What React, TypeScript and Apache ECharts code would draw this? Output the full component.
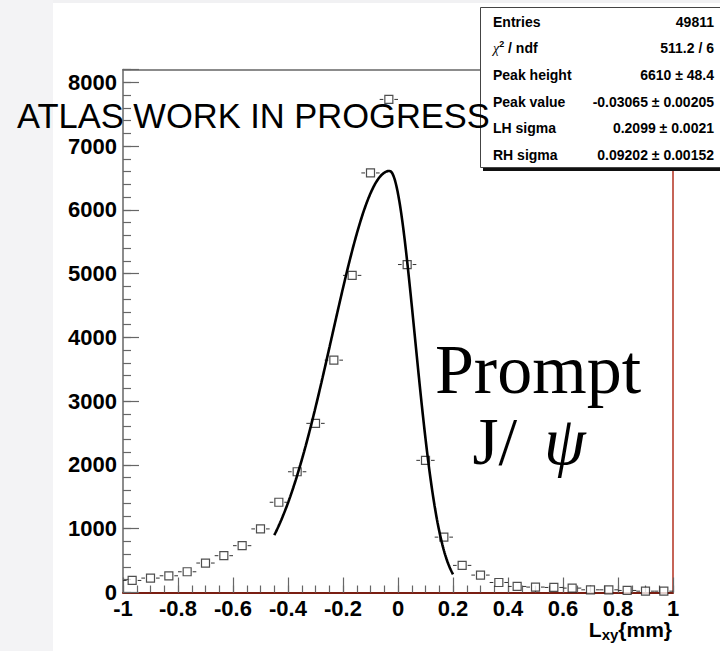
import React, { useEffect, useRef } from "react";
import * as echarts from "echarts";

// Histogram of L_xy (30 bins over [-1, 1] mm)
const binCenters = [
  -0.9667, -0.9, -0.8333, -0.7667, -0.7, -0.6333, -0.5667, -0.5, -0.4333, -0.3667,
  -0.3, -0.2333, -0.1667, -0.1, -0.0333, 0.0333, 0.1, 0.1667, 0.2333, 0.3,
  0.3667, 0.4333, 0.5, 0.5667, 0.6333, 0.7, 0.7667, 0.8333, 0.9, 0.9667,
];
const binHalfWidth = 1 / 30;
const counts = [
  189, 226, 262, 325, 462, 577, 734, 997, 1415, 1893,
  2652, 3643, 4972, 6578, 7731, 5142, 2072, 868, 425, 273,
  157, 95, 85, 79, 69, 42, 42, 32, 21, 21,
];

// Bifurcated Gaussian fit result
const fitHeight = 6610;
const fitPeak = -0.03065;
const fitSigmaL = 0.2099;
const fitSigmaR = 0.09202;
const fitRange = [-0.45, 0.2];

// Statistics box rows
const statLabels = ["Entries", "{chi|χ}{sup|2}{b| / ndf}", "Peak height", "Peak value", "LH sigma", "RH sigma"];
const statValues = ["49811", "511.2 / 6", "6610 ± 48.4", "-0.03065 ± 0.00205", "0.2099 ± 0.0021", "0.09202 ± 0.00152"];

// Axis tick settings
const xMin = -1;
const xMax = 1;
const xMajor = 0.2;
const xMinor = 0.05;
const yMin = 0;
const yMax = 8200;
const yMajor = 1000;
const yMinor = 200;

const SANS = "'Liberation Sans', Arial, Helvetica, sans-serif";
const SERIF = "'Liberation Serif', 'Times New Roman', serif";

function bifurGauss(x: number): number {
  const s = x < fitPeak ? fitSigmaL : fitSigmaR;
  const d = (x - fitPeak) / s;
  return fitHeight * Math.exp(-0.5 * d * d);
}

export default function App() {
  const ref = useRef<HTMLDivElement>(null);

  useEffect(() => {
    if (!ref.current) return;
    const chart = echarts.init(ref.current, undefined, { renderer: "svg" });

    const points = binCenters.map((c, i) => [c, counts[i]]);
    const curve: number[][] = [];
    const nSamp = 300;
    for (let i = 0; i <= nSamp; i++) {
      const x = fitRange[0] + ((fitRange[1] - fitRange[0]) * i) / nSamp;
      curve.push([x, bifurGauss(x)]);
    }

    const tickColor = "#666666";
    const labelStyle = {
      color: "#000",
      fontSize: 22,
      fontWeight: "bold" as const,
      fontFamily: SANS,
    };

    const statsTop = 7;
    const rowH = 26.7;
    const boxZ = 30;
    const statsChildren: any[] = [
      { type: "rect", z: boxZ, shape: { x: 483, y: 10, width: 245, height: 161 }, style: { fill: "#111111" } },
      {
        type: "rect",
        z: boxZ + 1,
        shape: { x: 480.5, y: 7.5, width: 245, height: 160 },
        style: { fill: "#ffffff", stroke: "#444444", lineWidth: 1 },
      },
    ];
    statLabels.forEach((lab, i) => {
      statsChildren.push({
        type: "text",
        z: boxZ + 2,
        x: 493,
        y: statsTop + 14.5 + rowH * i,
        style: {
          text: lab,
          font: `bold 14px ${SANS}`,
          fill: "#000",
          align: "left",
          verticalAlign: "middle",
          rich: {
            chi: { fontSize: 14, fontFamily: SERIF, fontStyle: "italic", lineHeight: 18 },
            sup: { fontSize: 9, fontWeight: "bold", fontFamily: SANS, verticalAlign: "top", lineHeight: 18 },
            b: { fontSize: 14, fontWeight: "bold", fontFamily: SANS, lineHeight: 18 },
          },
        },
      });
      statsChildren.push({
        type: "text",
        z: boxZ + 2,
        x: 714,
        y: statsTop + 14.5 + rowH * i,
        style: {
          text: statValues[i],
          font: `bold 14px ${SANS}`,
          fill: "#000",
          align: "right",
          verticalAlign: "middle",
        },
      });
    });

    chart.setOption({
      animation: false,
      backgroundColor: "#ffffff",
      grid: { left: 123, right: 47, top: 69.5, bottom: 58.5, containLabel: false },
      xAxis: [
        {
          type: "value",
          min: xMin,
          max: xMax,
          interval: xMajor,
          position: "bottom",
          axisLine: { show: true, onZero: false, lineStyle: { color: "#7a1e12", width: 2 } },
          axisTick: { show: true, inside: true, length: 15, lineStyle: { color: tickColor, width: 1.2 } },
          axisLabel: {
            ...labelStyle,
            margin: 5,
            showMinLabel: true,
            showMaxLabel: true,
            formatter: (v: number) => String(Number(v.toFixed(2))),
          },
          splitLine: { show: false },
        },
        {
          type: "value",
          min: xMin,
          max: xMax,
          interval: xMinor,
          position: "bottom",
          axisLine: { show: false, onZero: false },
          axisTick: { show: true, inside: true, length: 7, lineStyle: { color: tickColor, width: 1.2 } },
          axisLabel: { show: false },
          splitLine: { show: false },
        },
        {
          type: "value",
          min: xMin,
          max: xMax,
          position: "top",
          axisLine: { show: true, onZero: false, lineStyle: { color: "#666666", width: 1.5 } },
          axisTick: { show: false },
          axisLabel: { show: false },
          splitLine: { show: false },
        },
      ],
      yAxis: [
        {
          type: "value",
          min: yMin,
          max: yMax,
          interval: yMajor,
          position: "left",
          axisLine: { show: true, onZero: false, lineStyle: { color: "#666666", width: 1.5 } },
          axisTick: { show: true, inside: true, length: 16, lineStyle: { color: tickColor, width: 1.2 } },
          axisLabel: {
            ...labelStyle,
            margin: 6,
            formatter: (v: number) => (Math.round(v) % yMajor === 0 ? String(Math.round(v)) : ""),
          },
          splitLine: { show: false },
        },
        {
          type: "value",
          min: yMin,
          max: yMax,
          interval: yMinor,
          position: "left",
          axisLine: { show: false, onZero: false },
          axisTick: { show: true, inside: true, length: 8, lineStyle: { color: tickColor, width: 1.2 } },
          axisLabel: { show: false },
          splitLine: { show: false },
        },
        {
          type: "value",
          min: yMin,
          max: yMax,
          position: "right",
          axisLine: { show: true, onZero: false, lineStyle: { color: "#b3301f", width: 1.5 } },
          axisTick: { show: false },
          axisLabel: { show: false },
          splitLine: { show: false },
        },
      ],
      series: [
        {
          type: "custom",
          xAxisIndex: 0,
          yAxisIndex: 0,
          z: 2,
          data: points,
          renderItem: (params: any, api: any) => {
            const x = api.value(0);
            const y = api.value(1);
            const c = api.coord([x, y]);
            const l = api.coord([x - binHalfWidth, y]);
            const r = api.coord([x + binHalfWidth, y]);
            const gap = 5.5;
            const st = { stroke: "#333333", lineWidth: 1 };
            return {
              type: "group",
              children: [
                { type: "line", shape: { x1: l[0], y1: c[1], x2: c[0] - gap, y2: c[1] }, style: st },
                { type: "line", shape: { x1: c[0] + gap, y1: c[1], x2: r[0], y2: c[1] }, style: st },
              ],
            };
          },
        },
        {
          type: "scatter",
          xAxisIndex: 0,
          yAxisIndex: 0,
          z: 3,
          symbol: "rect",
          symbolSize: 8,
          data: points,
          itemStyle: { color: "#ffffff", borderColor: "#222222", borderWidth: 1.2 },
        },
        {
          type: "line",
          xAxisIndex: 0,
          yAxisIndex: 0,
          z: 4,
          data: curve,
          showSymbol: false,
          smooth: false,
          lineStyle: { color: "#000000", width: 2.6 },
        },
      ],
      graphic: [
        // light margins of the canvas
        { type: "rect", z: -1, shape: { x: 0, y: 0, width: 53, height: 651 }, style: { fill: "#f3f3f5" } },
        { type: "rect", z: -1, shape: { x: 53, y: 0, width: 667, height: 3 }, style: { fill: "#f1f1f3" } },
        {
          type: "text",
          z: 40,
          x: 17,
          y: 115.5,
          style: {
            text: "ATLAS WORK IN PROGRESS",
            font: `34.5px ${SANS}`,
            fill: "#000",
            align: "left",
            verticalAlign: "middle",
          },
        },
        {
          type: "text",
          z: 10,
          x: 538,
          y: 369,
          style: {
            text: "Prompt",
            font: `70px ${SERIF}`,
            lineHeight: 60,
            fill: "#000",
            align: "center",
            verticalAlign: "middle",
          },
        },
        {
          type: "text",
          z: 10,
          x: 529,
          y: 441,
          style: {
            text: "{n|J/ }{i|ψ}",
            align: "center",
            verticalAlign: "middle",
            fill: "#000",
            rich: {
              n: { fontSize: 67, fontFamily: SERIF, lineHeight: 56 },
              i: { fontSize: 67, fontFamily: SERIF, fontStyle: "italic", lineHeight: 56, padding: [0, 0, 0, 10] },
            },
          },
        },
        {
          type: "text",
          z: 10,
          x: 672,
          y: 629,
          style: {
            text: "{m|L}{s|xy}{mm}",
            font: `bold 21px ${SANS}`,
            lineHeight: 26,
            align: "right",
            verticalAlign: "middle",
            fill: "#000",
            rich: {
              m: { fontSize: 21, fontWeight: "bold", fontFamily: SANS, lineHeight: 26 },
              s: { fontSize: 15, fontWeight: "bold", fontFamily: SANS, lineHeight: 26, verticalAlign: "bottom" },
            },
          },
        },
        {
          type: "group",
          z: boxZ,
          children: statsChildren,
        },
      ],
    });

    return () => chart.dispose();
  }, []);

  return (
    <div
      ref={ref}
      style={{ position: "absolute", left: 0, top: 0, width: 720, height: 651 }}
    />
  );
}
